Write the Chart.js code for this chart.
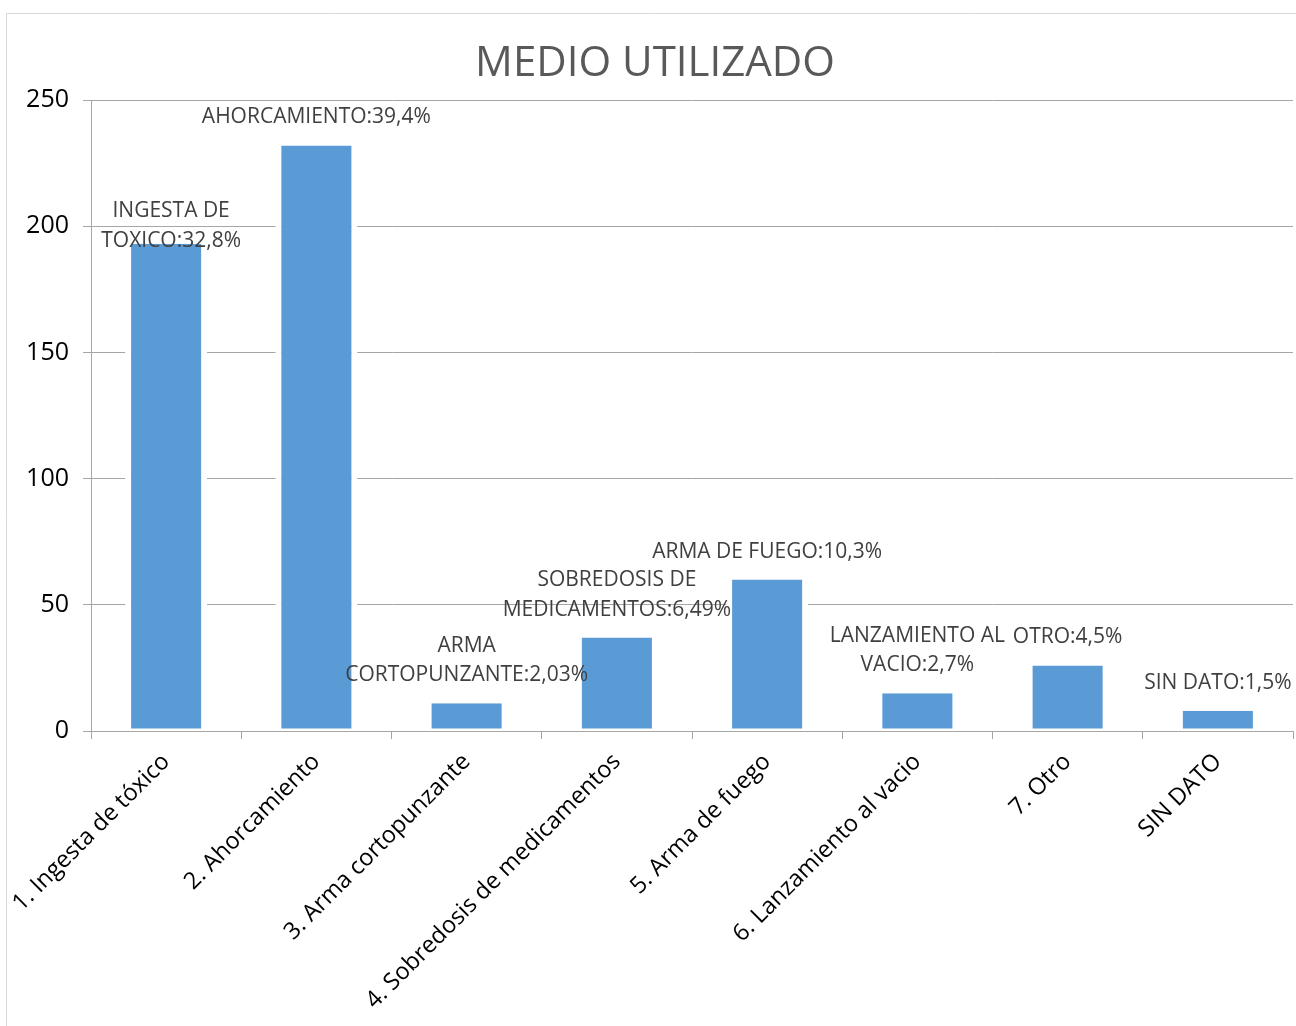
<!DOCTYPE html>
<html>
<head>
<meta charset="utf-8">
<script src="https://cdn.jsdelivr.net/npm/chart.js@4"></script>
<style>
  html, body { margin: 0; padding: 0; background: #fff; }
  #wrap { width: 1296px; height: 1026px; position: relative; }
</style>
</head>
<body>
<div id="wrap"><canvas id="medioChart" width="1296" height="1026"></canvas></div>
<script>
// categorias del eje x
const categorias = [
    '1. Ingesta de tóxico',
    '2. Ahorcamiento',
    '3. Arma cortopunzante',
    '4. Sobredosis de medicamentos',
    '5. Arma de fuego',
    '6. Lanzamiento al vacio',
    '7. Otro',
    'SIN DATO'
];

// casos por medio
const casos = [193, 232, 11, 37, 60, 15, 26, 8];

// etiquetas de datos, una linea por elemento
const etiquetas = [
    ['INGESTA DE', 'TOXICO:32,8%'],
    ['AHORCAMIENTO:39,4%'],
    ['ARMA', 'CORTOPUNZANTE:2,03%'],
    ['SOBREDOSIS DE', 'MEDICAMENTOS:6,49%'],
    ['ARMA DE FUEGO:10,3%'],
    ['LANZAMIENTO AL', 'VACIO:2,7%'],
    ['OTRO:4,5%'],
    ['SIN DATO:1,5%']
];

const yTicks = [0, 50, 100, 150, 200, 250];

const FONT = "'Open Sans', sans-serif";

// dibuja el marco gris del grafico
const marco = {
    id: 'marco',
    beforeDraw(chart) {
        const c = chart.ctx;
        c.save();
        c.strokeStyle = '#d9d9d9';
        c.lineWidth = 1;
        c.beginPath();
        c.moveTo(6.5, 1026);
        c.lineTo(6.5, 13.5);
        c.lineTo(1296, 13.5);
        c.stroke();
        c.restore();
    }
};

// titulo centrado algo a la derecha, como en el original
const titulo = {
    id: 'titulo',
    afterDraw(chart, args, opts) {
        const c = chart.ctx;
        c.save();
        c.font = opts.font;
        c.fillStyle = opts.color;
        c.textAlign = 'center';
        c.textBaseline = 'middle';
        c.fillText(opts.text, opts.x, opts.y);
        c.restore();
    }
};

// etiquetas encima de cada barra
const etiquetasBarras = {
    id: 'etiquetasBarras',
    afterDatasetsDraw(chart, args, opts) {
        const c = chart.ctx;
        const meta = chart.getDatasetMeta(0);
        c.save();
        c.font = opts.font;
        c.fillStyle = opts.color;
        c.textAlign = 'center';
        c.textBaseline = 'middle';
        meta.data.forEach((bar, i) => {
            const lines = etiquetas[i];
            const shift = opts.shift[i] || [0, 0];
            const x = bar.x + shift[0];
            const lastY = bar.y - opts.gap + shift[1];
            lines.forEach((t, j) => {
                const y = lastY - (lines.length - 1 - j) * opts.lineHeight;
                c.fillText(t, x, y);
            });
        });
        c.restore();
    }
};

const ctx = document.getElementById('medioChart').getContext('2d');

new Chart(ctx, {
    type: 'bar',
    data: {
        labels: categorias,
        datasets: [{
            data: casos,
            backgroundColor: '#5b9bd5',
            borderColor: '#ffffff',
            borderWidth: { left: 6, right: 6, top: 0, bottom: 2 },
            borderSkipped: false,
            barPercentage: 0.546,
            categoryPercentage: 1
        }]
    },
    options: {
        responsive: false,
        animation: false,
        layout: { padding: { left: 0, right: 3, top: 100, bottom: 0 } },
        scales: {
            x: {
                offset: true,
                grid: {
                    offset: true,
                    drawOnChartArea: false,
                    drawTicks: true,
                    tickLength: 8,
                    color: '#a6a6a6'
                },
                border: { color: '#a6a6a6', width: 1 },
                ticks: {
                    color: '#000',
                    font: { family: FONT, size: 23.5 },
                    maxRotation: 45,
                    minRotation: 45,
                    padding: 9
                },
                afterFit(scale) { scale.height = 1026 - 731; }
            },
            y: {
                min: 0,
                max: 250,
                afterBuildTicks(scale) { scale.ticks = yTicks.map(v => ({ value: v })); },
                grid: { color: '#a6a6a6', tickLength: 8 },
                border: { color: '#a6a6a6', width: 1 },
                ticks: {
                    color: '#000',
                    font: { family: FONT, size: 25 },
                    padding: 14
                },
                afterFit(scale) { scale.width = 91; }
            }
        },
        plugins: {
            legend: { display: false },
            tooltip: { enabled: false },
            title: { display: false },
            titulo: {
                text: 'MEDIO UTILIZADO',
                font: '42px ' + FONT,
                color: '#595959',
                x: 655,
                y: 64
            },
            etiquetasBarras: {
                font: '21px ' + FONT,
                color: '#404040',
                lineHeight: 29.5,
                gap: 28,
                shift: { 0: [5, 25] }
            }
        }
    },
    plugins: [marco, titulo, etiquetasBarras]
});
</script>
</body>
</html>
